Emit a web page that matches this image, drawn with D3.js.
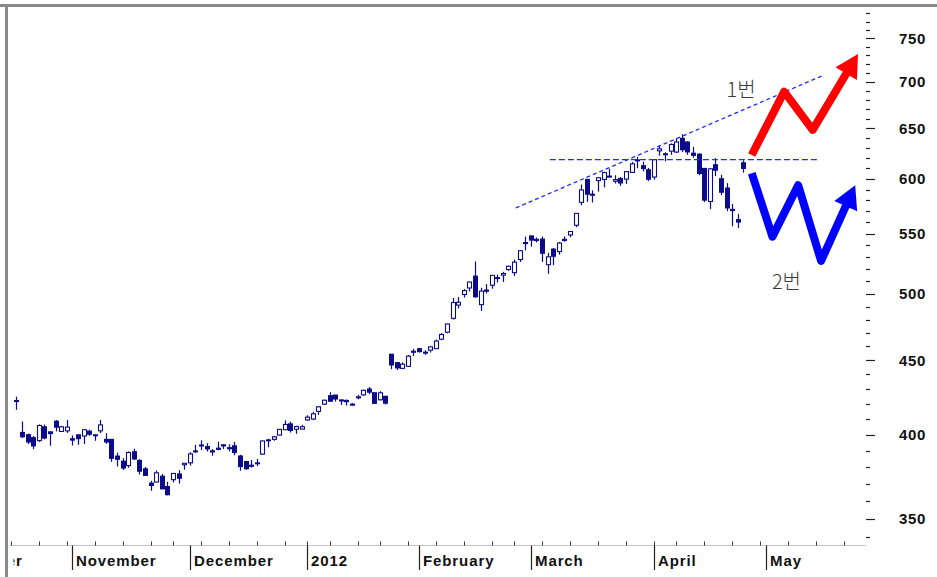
<!DOCTYPE html>
<html><head><meta charset="utf-8">
<script src="https://cdn.jsdelivr.net/npm/d3@7"></script>
<style>body{margin:0;background:#fff} svg{display:block}</style>
</head><body><svg id="c" width="937" height="577"></svg>
<script>
// ---------- DATA ----------
const dates = ["2011-10-18","2011-10-19","2011-10-20","2011-10-21","2011-10-24","2011-10-25","2011-10-26","2011-10-27","2011-10-28","2011-10-31",
"2011-11-01","2011-11-02","2011-11-03","2011-11-04","2011-11-07","2011-11-08","2011-11-09","2011-11-10","2011-11-11","2011-11-14","2011-11-15","2011-11-16","2011-11-17","2011-11-18","2011-11-21","2011-11-22","2011-11-23","2011-11-25","2011-11-28","2011-11-29","2011-11-30",
"2011-12-01","2011-12-02","2011-12-05","2011-12-06","2011-12-07","2011-12-08","2011-12-09","2011-12-12","2011-12-13","2011-12-14","2011-12-15","2011-12-16","2011-12-19","2011-12-20","2011-12-21","2011-12-22","2011-12-23","2011-12-27","2011-12-28","2011-12-29","2011-12-30",
"2012-01-03","2012-01-04","2012-01-05","2012-01-06","2012-01-09","2012-01-10","2012-01-11","2012-01-12","2012-01-13","2012-01-17","2012-01-18","2012-01-19","2012-01-20","2012-01-23","2012-01-24","2012-01-25","2012-01-26","2012-01-27","2012-01-30","2012-01-31",
"2012-02-01","2012-02-02","2012-02-03","2012-02-06","2012-02-07","2012-02-08","2012-02-09","2012-02-10","2012-02-13","2012-02-14","2012-02-15","2012-02-16","2012-02-17","2012-02-21","2012-02-22","2012-02-23","2012-02-24","2012-02-27","2012-02-28","2012-02-29",
"2012-03-01","2012-03-02","2012-03-05","2012-03-06","2012-03-07","2012-03-08","2012-03-09","2012-03-12","2012-03-13","2012-03-14","2012-03-15","2012-03-16","2012-03-19","2012-03-20","2012-03-21","2012-03-22","2012-03-23","2012-03-26","2012-03-27","2012-03-28","2012-03-29","2012-03-30",
"2012-04-02","2012-04-03","2012-04-04","2012-04-05","2012-04-09","2012-04-10","2012-04-11","2012-04-12","2012-04-13","2012-04-16","2012-04-17","2012-04-18","2012-04-19","2012-04-20","2012-04-23","2012-04-24","2012-04-25"];
const open  = [421.8,401.4,400.0,398.1,396.2,405.0,401.8,408.6,402.0,402.4,
397.4,399.9,399.1,402.2,399.9,402.4,397.0,397.0,386.6,383.5,380.8,389.3,384.0,378.9,370.4,371.0,374.5,368.4,372.4,375.8,381.3,
382.5,389.8,393.5,392.5,389.9,391.5,392.9,391.7,393.0,386.7,383.3,380.4,382.5,387.8,396.7,397.0,399.7,403.1,406.9,403.4,403.5,
409.4,410.0,415.0,419.8,425.5,425.9,422.6,422.3,419.7,424.2,426.0,430.0,427.5,422.7,425.1,454.4,448.4,444.3,445.7,455.9,
458.4,455.9,457.3,458.4,465.3,470.5,481.0,491.2,499.5,504.7,514.3,491.5,503.1,506.9,513.1,515.1,519.7,517.1,528.0,541.6,
548.2,544.2,545.4,523.7,536.8,534.7,544.2,549.0,557.5,578.1,599.6,584.7,598.4,599.5,602.7,597.8,600.5,599.8,606.2,618.4,612.8,608.8,
601.8,627.3,624.4,627.0,626.1,639.9,636.2,625.0,624.1,610.1,578.9,613.7,600.2,591.4,570.6,562.6,615.6];
const high  = [424.8,408.4,400.6,399.1,406.5,406.4,402.0,409.3,405.6,409.3,
399.5,400.0,403.4,403.1,400.0,409.4,400.9,397.2,388.7,385.3,389.5,391.1,384.6,380.0,371.7,377.9,375.8,371.2,376.2,378.0,382.3,
389.0,393.6,396.4,394.6,390.9,395.5,394.0,393.9,395.4,387.4,383.7,384.2,384.9,396.1,397.3,399.1,403.6,409.1,408.3,405.7,406.3,
412.5,414.7,418.6,422.8,427.8,426.0,422.9,422.9,420.5,426.0,429.5,431.4,427.5,428.5,425.1,454.5,448.8,448.5,453.9,458.2,
459.0,457.2,460.0,465.0,469.8,476.8,496.8,497.6,503.8,509.6,526.3,504.9,507.8,514.9,515.5,517.8,522.9,528.0,535.4,547.6,
548.2,546.8,547.5,533.7,537.8,543.0,547.7,552.0,568.2,594.7,600.0,589.2,601.8,606.9,609.7,603.5,601.8,607.2,616.3,621.5,616.6,610.6,
618.8,632.2,625.9,634.7,639.8,644.0,636.9,631.3,624.7,610.3,610.0,620.3,604.0,596.0,576.7,567.7,618.0];
const low   = [416.0,397.8,394.0,390.8,395.4,397.0,393.0,402.0,401.6,401.1,
393.2,393.6,394.1,399.2,396.1,401.0,394.2,383.1,380.3,378.2,379.5,384.3,375.5,374.9,365.9,370.9,366.9,363.3,370.8,370.1,378.3,
380.8,388.6,390.4,389.4,386.8,390.2,391.0,389.5,387.1,377.7,378.3,379.6,380.5,387.3,392.0,396.1,399.5,403.0,401.3,400.5,403.5,
409.0,409.3,412.7,419.2,421.4,421.5,419.3,418.8,418.7,423.0,425.5,426.5,419.8,422.3,419.6,443.7,443.1,443.8,445.4,453.1,
455.6,454.0,455.6,458.2,464.6,469.7,480.0,488.6,497.1,502.0,496.9,486.6,500.3,504.1,509.1,509.5,518.6,514.3,525.9,535.7,
538.8,542.5,526.0,516.2,523.3,532.1,543.1,547.0,555.8,575.4,578.6,578.0,588.0,592.0,601.4,595.6,593.4,595.3,606.1,610.3,607.2,597.9,
599.3,622.5,617.0,623.4,625.3,626.0,623.3,620.5,603.5,578.3,571.9,602.7,584.8,570.0,556.6,555.0,606.0];
const close = [422.2,398.6,395.3,392.9,405.8,397.8,400.6,404.7,405.0,404.8,
396.5,397.4,403.1,400.2,399.7,406.2,395.3,385.2,384.6,379.3,388.8,384.8,377.4,374.9,369.0,376.5,367.0,363.6,376.1,373.2,382.2,
387.9,389.7,393.0,391.0,389.1,390.7,393.6,391.8,388.8,380.2,378.9,381.0,382.2,396.0,396.5,398.6,403.3,406.5,402.6,405.1,405.0,
411.2,413.4,418.0,422.4,421.7,423.2,422.6,421.4,419.8,424.7,429.1,427.8,420.3,427.4,420.4,446.7,444.6,447.3,453.0,456.5,
456.2,455.1,459.7,464.0,468.8,476.7,493.2,493.4,502.6,509.5,497.7,502.2,502.1,514.9,513.0,516.4,522.4,525.8,535.4,542.4,
544.5,545.2,533.2,530.3,530.7,542.0,545.2,552.0,568.1,589.6,585.6,585.6,601.1,606.0,602.5,599.3,596.1,607.0,614.5,617.6,609.9,599.6,
618.6,629.3,624.3,633.7,636.2,628.4,626.2,622.8,605.2,580.1,609.7,608.3,587.4,573.0,571.7,560.3,610.0];

const yMajorTicks = [350,400,450,500,550,600,650,700,750];
const yMinorRange = [340,780];
const monthStarts = ["2011-10-03","2011-11-01","2011-12-01","2012-01-03","2012-02-01","2012-03-01","2012-04-02","2012-05-01"];
const monthLabels = ["October","November","December","2012","February","March","April","May"];
const holidays = ["2011-11-24","2011-12-26","2012-01-02","2012-01-16","2012-02-20","2012-04-06","2012-05-28"];

// annotations in data units: [trading-day index, price]
const trendLine  = [[89.3,573],[144.1,706.6]];
const resistLine = [[95.4,618.7],[143.2,618.7]];
const redPath    = [[131.5,623.2],[137.3,689],[142.4,648.5],[150.5,731.5]];
const bluePath   = [[131.5,605.4],[135.2,547.5],[139.8,594],[143.9,526.8],[150.0,594]];
const notes      = [{text:"1번", i:127.0, p:683.4},{text:"2번", i:135.1, p:503.6}];

// ---------- SCALES ----------
const W=937, H=577;
const svg = d3.select("#c");
const fmt = d3.timeFormat("%Y-%m-%d");
const hol = new Set(holidays);
const cal = d3.timeDay.range(new Date(2011,8,26), new Date(2012,5,2))
  .filter(d => d.getDay()!==0 && d.getDay()!==6 && !hol.has(fmt(d))).map(fmt);
const base = cal.indexOf(dates[0]);
const idx = s => cal.indexOf(s) - base;

const x = d3.scaleLinear().domain([0,124]).range([16.4, 16.4+5.592*124]);
const y = d3.scaleLog().domain([350,750]).range([518.8,38.2]);

const navy = "#0c0c8a";
const axisX0 = 10, axisX1 = 866, axisY = 545.5;

// ---------- CANDLES ----------
const g = svg.append("g");
dates.forEach((d,i) => {
  const cx = Math.round(x(idx(d)))+0.5;
  g.append("line").attr("x1",cx).attr("x2",cx).attr("y1",y(high[i])).attr("y2",y(low[i]))
    .attr("stroke",navy).attr("stroke-width",1.2);
  const up = close[i] >= open[i];
  const yt = y(Math.max(open[i],close[i])), yb = y(Math.min(open[i],close[i]));
  const h = Math.max(1, yb-yt);
  if (up) {
    g.append("rect").attr("x",cx-2).attr("width",4).attr("y",yt).attr("height",h)
      .attr("fill","#fff").attr("stroke",navy).attr("stroke-width",1.1);
  } else {
    g.append("rect").attr("x",cx-2.5).attr("width",5).attr("y",yt-0.5).attr("height",h+1)
      .attr("fill",navy);
  }
});

// ---------- DASHED LINES ----------
const line = d3.line().x(d=>x(d[0])).y(d=>y(d[1]));
svg.append("path").attr("d",line(trendLine)).attr("fill","none")
  .attr("stroke","#1c2ef0").attr("stroke-width",1.3).attr("stroke-dasharray","4,3");
svg.append("path").attr("d",line(resistLine)).attr("fill","none")
  .attr("stroke","#1c2ef0").attr("stroke-width",1.3).attr("stroke-dasharray","6,3");

// ---------- ARROWS ----------
function arrow(pts, color){
  const P = pts.map(d=>[x(d[0]), y(d[1])]);
  const tip = P[P.length-1], prev = P[P.length-2];
  const dx = tip[0]-prev[0], dy = tip[1]-prev[1], L = Math.hypot(dx,dy);
  const ux = dx/L, uy = dy/L, hl = 23, hw = 12.5;
  const bc = [tip[0]-ux*hl, tip[1]-uy*hl];
  const lp = P.slice(0,-1).concat([[bc[0]+ux*2, bc[1]+uy*2]]);
  svg.append("path").attr("d", d3.line()(lp)).attr("fill","none").attr("stroke",color)
    .attr("stroke-width",8).attr("stroke-linejoin","round").attr("stroke-linecap","butt");
  const tri = [tip, [bc[0]-uy*hw, bc[1]+ux*hw], [bc[0]+uy*hw, bc[1]-ux*hw]];
  svg.append("path").attr("d", d3.line()(tri)+"Z").attr("fill",color);
}
arrow(redPath, "#ff0000");
arrow(bluePath, "#0000ff");

svg.selectAll("text.note").data(notes).enter().append("text").attr("class","note")
  .attr("x",d=>x(d.i)).attr("y",d=>y(d.p)).text(d=>d.text)
  .attr("font-family","'Noto Sans CJK KR', 'Noto Sans', sans-serif").attr("font-size",20)
  .attr("font-weight",300).attr("fill","#3a3a3a");

// ---------- Y AXIS ----------
const yt = svg.append("g");
for (let v=yMinorRange[0]; v<=yMinorRange[1]; v+=10){
  const major = yMajorTicks.includes(v);
  const yy = Math.round(y(v))+0.5;
  yt.append("line").attr("x1",866).attr("x2",major?875:870).attr("y1",yy).attr("y2",yy)
    .attr("stroke","#222").attr("stroke-width",1.2);
}
yt.selectAll("text").data(yMajorTicks).enter().append("text")
  .attr("x",899).attr("y",d=>y(d)+5.5).text(d=>d)
  .attr("font-family","'Liberation Sans', Arial, sans-serif").attr("font-weight","bold")
  .attr("font-size",15).attr("letter-spacing",0.6).attr("fill","#111");

// ---------- X AXIS ----------
const xa = svg.append("g");
xa.append("line").attr("x1",axisX0).attr("x2",axisX1).attr("y1",axisY).attr("y2",axisY)
  .attr("stroke","#c4c4c4").attr("stroke-width",1.2);
const weekStarts = cal.filter((s,k)=> k>0 && d3.timeMonday.floor(new Date(s+"T00:00")).getTime() !== d3.timeMonday.floor(new Date(cal[k-1]+"T00:00")).getTime());
weekStarts.forEach(s=>{
  const xx = Math.round(x(idx(s)))+0.5;
  if (xx>axisX0 && xx<axisX1) xa.append("line").attr("x1",xx).attr("x2",xx).attr("y1",axisY-4).attr("y2",axisY)
    .attr("stroke","#333").attr("stroke-width",1);
});
monthStarts.forEach((s,k)=>{
  const xx = Math.round(x(idx(s)))+0.5;
  xa.append("line").attr("x1",xx).attr("x2",xx).attr("y1",axisY).attr("y2",570)
    .attr("stroke","#222").attr("stroke-width",1.2);
  xa.append("text").attr("x",xx+3.5).attr("y",566).text(monthLabels[k])
    .attr("font-family","'Liberation Sans', Arial, sans-serif").attr("font-weight","bold")
    .attr("font-size",15).attr("letter-spacing",0.9).attr("fill","#111");
});

// ---------- FRAME ----------
svg.append("rect").attr("x",0).attr("y",548).attr("width",13.5).attr("height",H-548).attr("fill","#fff");
svg.append("rect").attr("x",0).attr("y",0).attr("width",8).attr("height",H).attr("fill","#fff");
svg.append("rect").attr("x",5).attr("y",4).attr("width",3).attr("height",H-4).attr("fill","#8a8a8a");
svg.append("rect").attr("x",0).attr("y",4).attr("width",W).attr("height",3).attr("fill","#8a8a8a");
</script></body></html>
